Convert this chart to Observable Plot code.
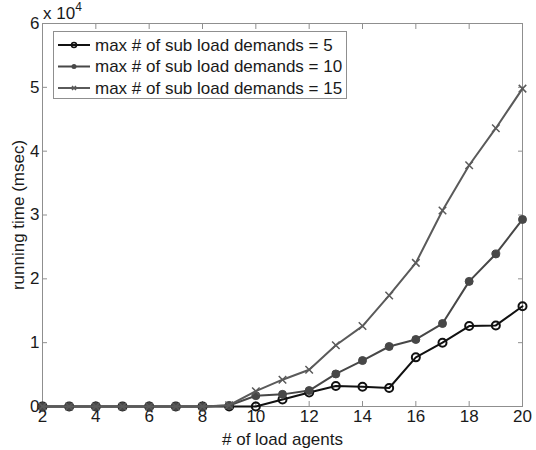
<!DOCTYPE html>
<html>
<head>
<meta charset="utf-8">
<script src="https://cdn.jsdelivr.net/npm/d3@7"></script>
<script src="https://cdn.jsdelivr.net/npm/@observablehq/plot@0.6"></script>
<style>
  html, body { margin: 0; padding: 0; background: #fff; }
  #chart { width: 536px; height: 450px; }
</style>
</head>
<body>
<div id="chart"></div>
<script>
const agents = [2,3,4,5,6,7,8,9,10,11,12,13,14,15,16,17,18,19,20];
const demands5  = [0,0,0,0,0,0,0,0,0,1100,2200,3200,3100,2900,7700,10000,12600,12700,15700];
const demands10 = [0,0,0,0,0,0,0,150,1700,1900,2500,5100,7200,9400,10500,13000,19600,23900,29300];
const demands15 = [0,0,0,0,0,0,0,200,2400,4200,5750,9600,12600,17400,22500,30700,37800,43600,49800];
const seriesNames = ["max # of sub load demands = 5", "max # of sub load demands = 10", "max # of sub load demands = 15"];
const xTicks = [2,4,6,8,10,12,14,16,18,20];
const yTicks = [0,10000,20000,30000,40000,50000,60000];

const toRows = (vals, name) => agents.map((a, i) => ({x: a, y: vals[i], s: name}));
const rows5 = toRows(demands5, seriesNames[0]);
const rows10 = toRows(demands10, seriesNames[1]);
const rows15 = toRows(demands15, seriesNames[2]);

const c5 = "#111111", c10 = "#474747", c15 = "#5a5a5a";
const axisColor = "#8f8f8f";
const font = "'Liberation Sans', Arial, sans-serif";
const fs = 17;

const chart = Plot.plot({
  width: 536,
  height: 450,
  marginLeft: 42,
  marginRight: 14,
  marginTop: 23,
  marginBottom: 44,
  style: {fontFamily: font, fontSize: fs + "px", color: "#1a1a1a", background: "white", overflow: "visible"},
  x: {domain: [2, 20]},
  y: {domain: [0, 60000]},
  marks: [
    Plot.frame({stroke: axisColor}),
    Plot.axisX({ticks: xTicks, tickSize: -5, tickPadding: 8, stroke: axisColor, fontSize: fs,
      label: "# of load agents", labelAnchor: "center", labelArrow: "none", labelOffset: 38}),
    Plot.axisX({anchor: "top", ticks: xTicks, tickSize: -5, stroke: axisColor, tickFormat: () => "", label: null}),
    Plot.axisY({ticks: yTicks, tickSize: -5, tickPadding: 8, stroke: axisColor, fontSize: fs,
      tickFormat: d => String(d / 10000),
      label: "running time (msec)", labelAnchor: "center", labelArrow: "none", labelOffset: 31}),
    Plot.axisY({anchor: "right", ticks: yTicks, tickSize: -5, stroke: axisColor, tickFormat: () => "", label: null}),
    Plot.line(rows5, {x: "x", y: "y", stroke: c5, strokeWidth: 2}),
    Plot.dot(rows5, {x: "x", y: "y", r: 4, stroke: c5, strokeWidth: 2, fill: "none"}),
    Plot.line(rows10, {x: "x", y: "y", stroke: c10, strokeWidth: 2}),
    Plot.dot(rows10, {x: "x", y: "y", r: 4, fill: c10, stroke: c10, strokeWidth: 1}),
    Plot.line(rows15, {x: "x", y: "y", stroke: c15, strokeWidth: 2}),
    Plot.dot(rows15, {x: "x", y: "y", r: 3.5, symbol: "times", stroke: c15, strokeWidth: 1.5})
  ]
});

document.getElementById("chart").appendChild(chart);

// exponent label and legend drawn into the same SVG
const svg = d3.select(chart);
const ex = svg.append("text")
  .attr("x", 43).attr("y", 19).attr("text-anchor", "start")
  .attr("font-family", font).attr("font-size", fs).attr("fill", "#1a1a1a");
ex.append("tspan").text("x 10");
ex.append("tspan").attr("dy", -8).attr("font-size", 12).text("4");

const lg = svg.append("g").attr("text-anchor", "start");
lg.append("rect").attr("x", 53.5).attr("y", 31.5).attr("width", 293).attr("height", 67)
  .attr("fill", "white").attr("stroke", axisColor);
const colors = [c5, c10, c15];
seriesNames.forEach((name, i) => {
  const yy = 45 + i * 21.5;
  lg.append("line").attr("x1", 58).attr("x2", 90).attr("y1", yy).attr("y2", yy)
    .attr("stroke", colors[i]).attr("stroke-width", 2);
  if (i === 0) {
    lg.append("circle").attr("cx", 74).attr("cy", yy).attr("r", 2.5)
      .attr("fill", "none").attr("stroke", colors[i]).attr("stroke-width", 1.5);
  } else if (i === 1) {
    lg.append("circle").attr("cx", 74).attr("cy", yy).attr("r", 2.5).attr("fill", colors[i]);
  } else {
    lg.append("path").attr("d", `M${72},${yy-2}L${76},${yy+2}M${72},${yy+2}L${76},${yy-2}`)
      .attr("stroke", colors[i]).attr("stroke-width", 1.5);
  }
  lg.append("text").attr("x", 95).attr("y", yy).attr("dy", "0.35em").attr("text-anchor", "start")
    .attr("font-family", font).attr("font-size", fs).attr("fill", "#1a1a1a").text(name);
});
</script>
</body>
</html>
